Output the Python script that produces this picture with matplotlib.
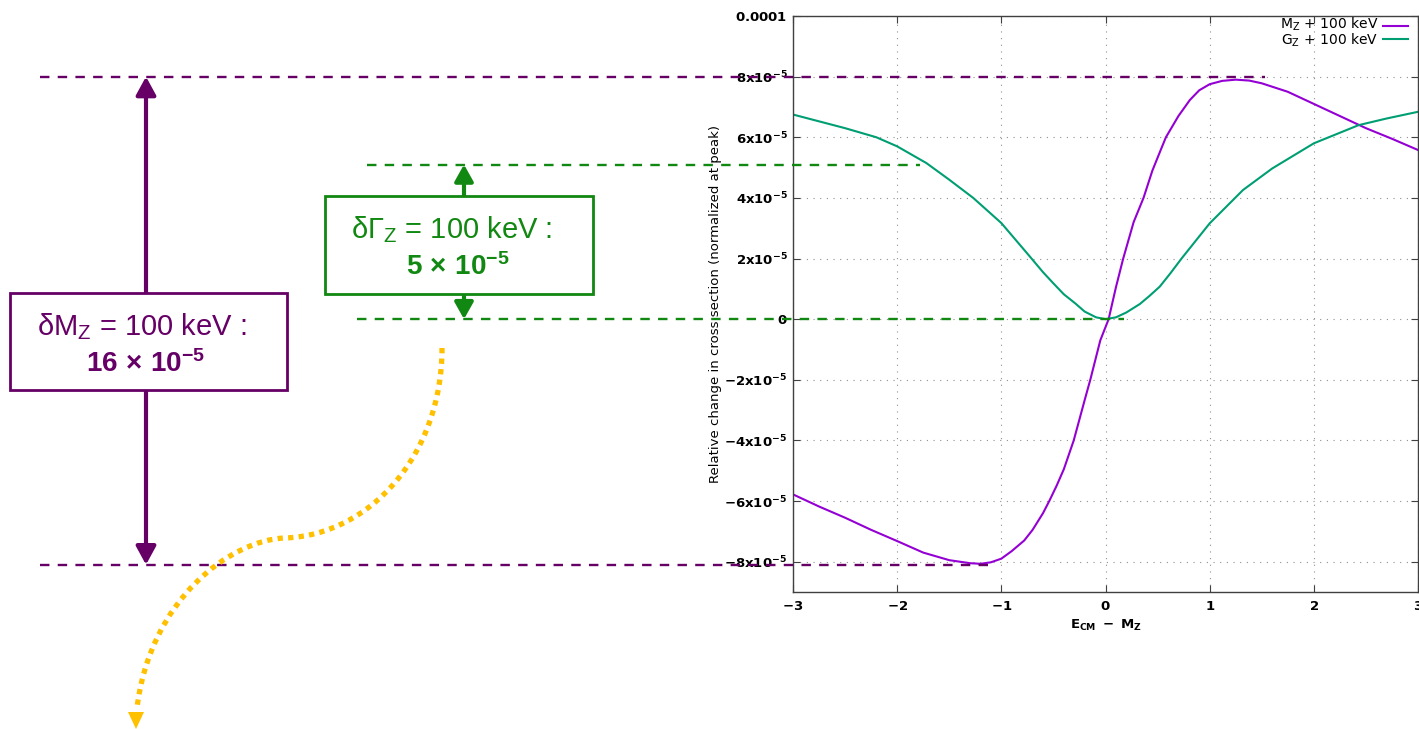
import matplotlib.pyplot as plt
from matplotlib.transforms import blended_transform_factory
from matplotlib.patches import Rectangle, Polygon, PathPatch
from matplotlib.path import Path

plt.rcParams['mathtext.fontset'] = 'custom'
plt.rcParams['mathtext.rm'] = 'Liberation Sans'
plt.rcParams['mathtext.bf'] = 'Liberation Sans:bold'
plt.rcParams['mathtext.it'] = 'Liberation Sans:italic'

# relative change, in units of 1e-5
mz_x = [-3.0, -2.75, -2.5, -2.25, -2.0, -1.75, -1.5, -1.3, -1.2, -1.1, -1.0,
        -0.9, -0.78, -0.7, -0.6, -0.54, -0.47, -0.4, -0.305, -0.2, -0.146,
        -0.05, 0.03, 0.1, 0.17, 0.27, 0.365, 0.45, 0.53, 0.58, 0.7, 0.81,
        0.9, 1.0, 1.12, 1.25, 1.38, 1.5, 1.75, 2.0, 2.25, 2.5, 2.75, 3.0]
mz_y = [-5.78, -6.18, -6.55, -6.95, -7.32, -7.7, -7.95, -8.05, -8.07, -8.02,
        -7.9, -7.65, -7.3, -6.95, -6.4, -6.0, -5.5, -4.95, -4.0, -2.67, -2.0,
        -0.7, 0.0, 1.05, 2.0, 3.2, 4.0, 4.9, 5.58, 6.0, 6.7, 7.23, 7.55, 7.75,
        7.86, 7.9, 7.87, 7.78, 7.5, 7.1, 6.7, 6.3, 5.95, 5.58]

gz_x = [-3.0, -2.5, -2.2, -2.0, -1.72, -1.5, -1.27, -1.0, -0.71, -0.6, -0.5,
        -0.4, -0.29, -0.2, -0.09, 0.0, 0.1, 0.2, 0.33, 0.42, 0.52, 0.62, 0.73,
        1.0, 1.32, 1.6, 2.0, 2.43, 2.7, 3.0]
gz_y = [6.75, 6.3, 6.0, 5.7, 5.15, 4.6, 4.0, 3.17, 2.0, 1.55, 1.18, 0.82,
        0.52, 0.25, 0.06, 0.0, 0.06, 0.22, 0.5, 0.76, 1.07, 1.5, 2.0, 3.16,
        4.26, 4.97, 5.8, 6.4, 6.62, 6.84]

x_ticks = [-3, -2, -1, 0, 1, 2, 3]
y_ticks = [-8, -6, -4, -2, 0, 2, 4, 6, 8, 10]
y_tick_labels = [r'$\mathbf{-8x10^{-5}}$', r'$\mathbf{-6x10^{-5}}$',
                 r'$\mathbf{-4x10^{-5}}$', r'$\mathbf{-2x10^{-5}}$',
                 r'$\mathbf{0}$', r'$\mathbf{2x10^{-5}}$', r'$\mathbf{4x10^{-5}}$',
                 r'$\mathbf{6x10^{-5}}$', r'$\mathbf{8x10^{-5}}$',
                 r'$\mathbf{0.0001}$']

# levels marked by the dashed guide lines (units of 1e-5)
dm_hi, dm_lo = 8.0, -8.1
dg_hi, dg_lo = 5.1, 0.0

purple = '#660066'
green = '#118811'
yellow = '#ffc000'

fig = plt.figure(figsize=(14.19, 7.29), dpi=100)
W, H = 1419, 729
ax = fig.add_axes([793 / W, (H - 592) / H, 625 / W, 576 / H])

ax.plot(mz_x, [v * 1e-5 for v in mz_y], color='#9400d3', lw=1.5)
ax.plot(gz_x, [v * 1e-5 for v in gz_y], color='#009e73', lw=1.5)

ax.set_xlim(-3, 3)
ax.set_ylim(-9e-5, 1e-4)
ax.set_xticks(x_ticks, [r'$\mathbf{%d}$' % t for t in x_ticks],
              fontsize=9.5, math_fontfamily='dejavusans')
ax.set_yticks([t * 1e-5 for t in y_ticks], y_tick_labels,
              fontsize=9.5, math_fontfamily='dejavusans')
ax.tick_params(direction='in', top=True, right=True, length=5, width=0.8,
               color='#404040', pad=4)
ax.tick_params(axis='x', pad=6)
for s in ax.spines.values():
    s.set_color('#404040')
    s.set_linewidth(1)
ax.grid(True, color='#909090', lw=0.8, linestyle=(0, (1, 5)))

ax.set_xlabel(r'$\mathbf{E_{CM}\ -\ M_{Z}}$', fontsize=9.5,
              math_fontfamily='dejavusans', labelpad=3)
ax.set_ylabel('Relative change in cross section (normalized at peak)',
              fontsize=9.5, family='DejaVu Sans', labelpad=2)

# legend, gnuplot style
ax.text(0.936, 0.985, r'M$_\mathrm{Z}$ + 100 keV', transform=ax.transAxes,
        ha='right', va='center', fontsize=10, family='DejaVu Sans',
        math_fontfamily='dejavusans')
ax.text(0.936, 0.958, r'G$_\mathrm{Z}$ + 100 keV', transform=ax.transAxes,
        ha='right', va='center', fontsize=10, family='DejaVu Sans',
        math_fontfamily='dejavusans')
ax.plot([0.944, 0.984], [0.983, 0.983], transform=ax.transAxes,
        color='#9400d3', lw=1.5)
ax.plot([0.944, 0.984], [0.960, 0.960], transform=ax.transAxes,
        color='#009e73', lw=1.5)
ax.set_xlim(-3, 3)
ax.set_ylim(-9e-5, 1e-4)

# overlay in pixel coordinates for the slide annotations
over = fig.add_axes([0, 0, 1, 1], zorder=5)
over.set_xlim(0, W)
over.set_ylim(H, 0)
over.set_autoscale_on(False)
over.axis('off')
over.patch.set_alpha(0)
tr = blended_transform_factory(over.transData, ax.transData)

dash = (0, (4, 3.5))
over.plot([40, 1265], [dm_hi * 1e-5] * 2, transform=tr, color=purple,
          lw=1.7, linestyle=dash, clip_on=False)
over.plot([40, 988], [dm_lo * 1e-5] * 2, transform=tr, color=purple,
          lw=1.7, linestyle=dash, clip_on=False)
over.plot([367, 920], [dg_hi * 1e-5] * 2, transform=tr, color=green,
          lw=1.7, linestyle=dash, clip_on=False)
over.plot([357, 1124], [dg_lo * 1e-5] * 2, transform=tr, color=green,
          lw=1.7, linestyle=dash, clip_on=False)

over.annotate('', xy=(146, dm_hi * 1e-5), xytext=(146, dm_lo * 1e-5),
              xycoords=tr, textcoords=tr, zorder=1,
              arrowprops=dict(arrowstyle='<|-|>,head_length=0.55,head_width=0.3',
                              color=purple, lw=3, shrinkA=0, shrinkB=0,
                              mutation_scale=20))
over.annotate('', xy=(464, dg_hi * 1e-5), xytext=(464, dg_lo * 1e-5),
              xycoords=tr, textcoords=tr, zorder=1,
              arrowprops=dict(arrowstyle='<|-|>,head_length=0.5,head_width=0.28',
                              color=green, lw=3, shrinkA=0, shrinkB=0,
                              mutation_scale=20))

over.add_patch(Rectangle((10, 293), 277, 97, facecolor='white',
                         edgecolor=purple, lw=2, zorder=2))
over.add_patch(Rectangle((325, 196), 268, 98, facecolor='white',
                         edgecolor=green, lw=2, zorder=2))

over.text(142, 335, r'δM$_\mathrm{Z}$ = 100 keV :', color=purple,
          fontsize=21, family='Liberation Sans', ha='center', va='baseline',
          zorder=3)
over.text(145, 372, r'$\mathbf{16\,\times\,10^{-5}}$', color=purple,
          fontsize=20, family='Liberation Sans', ha='center', va='baseline',
          zorder=3)
over.text(452, 238, r'δΓ$_\mathrm{Z}$ = 100 keV :', color=green,
          fontsize=21, family='Liberation Sans', ha='center', va='baseline',
          zorder=3)
over.text(458, 275, r'$\mathbf{5\,\times\,10^{-5}}$', color=green,
          fontsize=20, family='Liberation Sans', ha='center', va='baseline',
          zorder=3)

# dotted yellow curved arrow
verts = [(442, 348), (442, 455), (370, 535), (285, 538),
         (230, 540), (150, 600), (137, 708)]
codes = [Path.MOVETO, Path.CURVE4, Path.CURVE4, Path.CURVE4,
         Path.CURVE4, Path.CURVE4, Path.CURVE4]
over.add_patch(PathPatch(Path(verts, codes), facecolor='none',
                         edgecolor=yellow, lw=3.8, linestyle=(0, (1, 1)),
                         capstyle='butt', zorder=4))
over.add_patch(Polygon([(136, 729), (128, 712), (144, 712)], closed=True,
                       facecolor=yellow, edgecolor='none', zorder=4))

fig.savefig('out.png', dpi=100)
